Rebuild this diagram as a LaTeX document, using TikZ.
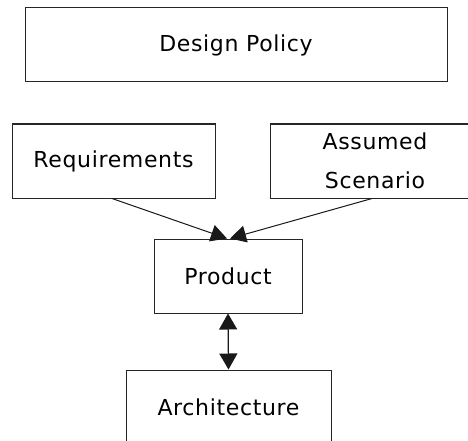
\documentclass[tikz,border=0pt]{standalone}
\usepackage{fontspec}
\setmainfont{DejaVu Sans}[LetterSpace=3]
\usetikzlibrary{arrows.meta}
\tikzset{
  box/.style={draw=black!85, line width=1pt, inner sep=0pt, align=center,
    font=\fontsize{22}{39}\selectfont, text=black},
  arr/.style={draw=black!90, line width=1pt, -{Triangle[length=16pt,width=17pt]}},
  darr/.style={draw=black!90, line width=1.2pt, {Triangle[length=16pt,width=18pt]}-{Triangle[length=16pt,width=18pt]}}
}
\begin{document}
\begin{tikzpicture}[x=1pt,y=-1pt]
\useasboundingbox (0,0) rectangle (468,441);
\clip (0,0) rectangle (468,441);
\fill[white] (0,0) rectangle (468,441);
\node[box, minimum width=422pt, minimum height=74pt] (dp) at (236,45) {Design Policy};
\node[box, minimum width=203pt, minimum height=74pt] (req) at (113.5,161) {Requirements};
\node[box, minimum width=210pt, minimum height=74pt] (scen) at (375,161) {Assumed\\Scenario};
\node[box, minimum width=148pt, minimum height=74pt] (prod) at (228,276) {Product};
\node[box, minimum width=205pt, minimum height=74pt] (arch) at (228.5,407) {Architecture};
\draw[arr] ([xshift=-1.5pt]req.south) -- ([xshift=-1pt]prod.north);
\draw[arr] ([xshift=-3pt]scen.south) -- ([xshift=2pt]prod.north);
\draw[darr] (prod.south) -- (arch.north);
\end{tikzpicture}
\end{document}
